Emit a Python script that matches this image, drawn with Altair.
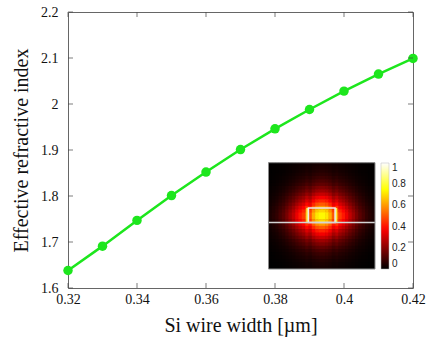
import altair as alt
import pandas as pd

# ---- main curve ----
wire_width = [0.32, 0.33, 0.34, 0.35, 0.36, 0.37, 0.38, 0.39, 0.40, 0.41, 0.42]
n_eff = [1.638, 1.691, 1.747, 1.801, 1.852, 1.901, 1.946, 1.988, 2.028, 2.065, 2.099]

x_ticks = [0.32, 0.34, 0.36, 0.38, 0.40, 0.42]
y_ticks = [1.6, 1.7, 1.8, 1.9, 2.0, 2.1, 2.2]

# ---- inset mode field (cell centres in um, profiles) ----
field_x = [-0.775, -0.725, -0.675, -0.625, -0.575, -0.525, -0.475, -0.425,
           -0.375, -0.325, -0.275, -0.225, -0.175, -0.125, -0.075, -0.025,
           0.025, 0.075, 0.125, 0.175, 0.225, 0.275, 0.325, 0.375,
           0.425, 0.475, 0.525, 0.575, 0.625, 0.675, 0.725, 0.775]
field_y = [0.875, 0.825, 0.775, 0.725, 0.675, 0.625, 0.575, 0.525,
           0.475, 0.425, 0.375, 0.325, 0.275, 0.225, 0.175, 0.125,
           0.075, 0.025, -0.025, -0.075, -0.125, -0.175, -0.225, -0.275,
           -0.325, -0.375, -0.425, -0.475, -0.525, -0.575, -0.625, -0.675]
profile_x = [0.055, 0.075, 0.10, 0.14, 0.18, 0.24, 0.31, 0.38, 0.47, 0.55, 0.62, 0.75, 0.68, 0.85, 0.96, 1.0,
             1.0, 0.96, 0.85, 0.68, 0.75, 0.62, 0.55, 0.47, 0.38, 0.31, 0.24, 0.18, 0.14, 0.10, 0.075, 0.055]
profile_y = [0.045, 0.055, 0.07, 0.09, 0.115, 0.15, 0.19, 0.25, 0.31, 0.39, 0.48, 0.57, 0.68, 0.80, 0.92, 0.99,
             0.99, 0.92, 0.80, 0.68, 0.57, 0.48, 0.39, 0.31, 0.25, 0.19, 0.15, 0.115, 0.09, 0.07, 0.055, 0.045]
field_peak = 0.75
cell = 0.05
cell_overlap = 0.008  # small overlap so neighbouring cells leave no anti-alias seams

window_x = [-0.8, 0.8]
window_y = [-0.7, 0.9]
core_x = [-0.2, 0.2]
core_y = [0.0, 0.22]
strip_x0 = [-0.232, 0.2]
strip_x1 = [-0.2, 0.232]
colorbar_values = [0, 0.2, 0.4, 0.6, 0.8, 1]

green = "#1de61d"
serif = "Liberation Serif"

df = pd.DataFrame({"w": wire_width, "n": n_eff})
rows = []
for j, yc in enumerate(field_y):
    for i, xc in enumerate(field_x):
        rows.append({"x0": xc - cell / 2, "x1": min(xc + cell / 2 + cell_overlap, window_x[1]),
                     "y0": max(yc - cell / 2 - cell_overlap, window_y[0]), "y1": yc + cell / 2,
                     "val": field_peak * profile_x[i] * profile_y[j]})
df_field = pd.DataFrame(rows)


def xs():
    return alt.Scale(domain=[0.32, 0.42], nice=False, zero=False)


def ys():
    return alt.Scale(domain=[1.6, 2.2], nice=False, zero=False)


def ixs():
    return alt.Scale(domain=window_x, range=[200.5, 307], nice=False, zero=False)


def iys():
    return alt.Scale(domain=window_y, range=[257, 150.7], nice=False, zero=False)


hot = alt.Scale(domain=[0, 0.375, 0.75, 1], range=["#000000", "#ff0000", "#ffff00", "#ffffff"],
                interpolate="rgb")

x_axis = alt.Axis(title="Si wire width [µm]", values=x_ticks, format=".2~f", ticks=False,
                  domain=False, grid=False, labelFont=serif, labelFontSize=14, labelColor="#111",
                  labelPadding=4, labelFlush=False, titleFont=serif, titleFontSize=20,
                  titleFontWeight="normal", titleColor="#111", titlePadding=9)
y_axis = alt.Axis(title="Effective refractive index", values=y_ticks, format=".1~f", ticks=False,
                  domain=False, grid=False, labelFont=serif, labelFontSize=14, labelColor="#111",
                  labelPadding=10, labelFlush=False, titleFont=serif, titleFontSize=20,
                  titleFontWeight="normal", titleColor="#111", titlePadding=9)

base = alt.Chart(df)
line = base.mark_line(color=green, strokeWidth=2.5).encode(
    x=alt.X("w:Q", scale=xs(), axis=x_axis), y=alt.Y("n:Q", scale=ys(), axis=y_axis))
pts = base.mark_circle(color=green, size=90, opacity=1).encode(
    x=alt.X("w:Q", scale=xs(), axis=None), y=alt.Y("n:Q", scale=ys(), axis=None))

tx = alt.Chart(pd.DataFrame({"v": x_ticks}))
ty = alt.Chart(pd.DataFrame({"v": y_ticks}))
tick_style = dict(color="#444", size=5, thickness=1)
t_bottom = tx.mark_tick(**tick_style).encode(x=alt.X("v:Q", scale=xs(), axis=None), y=alt.value(273.5))
t_top = tx.mark_tick(**tick_style).encode(x=alt.X("v:Q", scale=xs(), axis=None), y=alt.value(2.5))
t_left = ty.mark_tick(**tick_style).encode(y=alt.Y("v:Q", scale=ys(), axis=None), x=alt.value(2.5))
t_right = ty.mark_tick(**tick_style).encode(y=alt.Y("v:Q", scale=ys(), axis=None), x=alt.value(342.5))

window_df = pd.DataFrame({"x0": [window_x[0]], "x1": [window_x[1]],
                          "y0": [window_y[0]], "y1": [window_y[1]]})


def rect_enc(ch):
    return ch.encode(x=alt.X("x0:Q", scale=ixs(), axis=None), x2="x1:Q",
                     y=alt.Y("y0:Q", scale=iys(), axis=None), y2="y1:Q")


bg = rect_enc(alt.Chart(window_df).mark_rect(color="#000000"))

heat = alt.Chart(df_field).mark_rect().encode(
    x=alt.X("x0:Q", scale=ixs(), axis=None), x2="x1:Q",
    y=alt.Y("y0:Q", scale=iys(), axis=None), y2="y1:Q",
    color=alt.Color("val:Q", scale=hot, legend=alt.Legend(
        type="gradient", orient="none", legendX=313, legendY=151, direction="vertical",
        gradientLength=106, gradientThickness=8, title=None, values=colorbar_values,
        format=".1~f", labelFont="Liberation Sans", labelFontSize=10, labelColor="#222",
        labelBaseline="middle", labelOverlap=False, padding=0, gradientStrokeColor="#bbb",
        gradientStrokeWidth=0.5, labelOffset=3)))

strips = rect_enc(alt.Chart(pd.DataFrame({"x0": strip_x0, "x1": strip_x1,
                                          "y0": [core_y[0]] * 2, "y1": [core_y[1]] * 2})).mark_rect(
    color="#ffee3a"))

frame = rect_enc(alt.Chart(window_df).mark_rect(fill=None, stroke="#8a8a8a", strokeWidth=1))

core = rect_enc(alt.Chart(pd.DataFrame({"x0": [core_x[0]], "x1": [core_x[1]],
                                        "y0": [core_y[0]], "y1": [core_y[1]]})).mark_rect(
    fill=None, stroke="#ececec", strokeWidth=1.5))

substrate = alt.Chart(pd.DataFrame({"x0": [window_x[0]], "x1": [window_x[1]],
                                    "y0": [core_y[0]]})).mark_rule(
    color="#d4d4d4", strokeWidth=1.5).encode(
    x=alt.X("x0:Q", scale=ixs(), axis=None), x2="x1:Q", y=alt.Y("y0:Q", scale=iys(), axis=None))

chart = alt.layer(line, pts, t_bottom, t_top, t_left, t_right,
                  bg, heat, strips, core, substrate, frame).resolve_scale(
    x="independent", y="independent").properties(
    width=345, height=276,
    padding={"left": 68, "top": 12, "right": 14, "bottom": 51},
    autosize=alt.AutoSizeParams(type="none"),
    background="white",
).configure_view(stroke="#666", strokeWidth=1).configure_axis(
    labelFont=serif, titleFont=serif)

chart.save("out.html", embed_options={"renderer": "svg", "actions": False})
